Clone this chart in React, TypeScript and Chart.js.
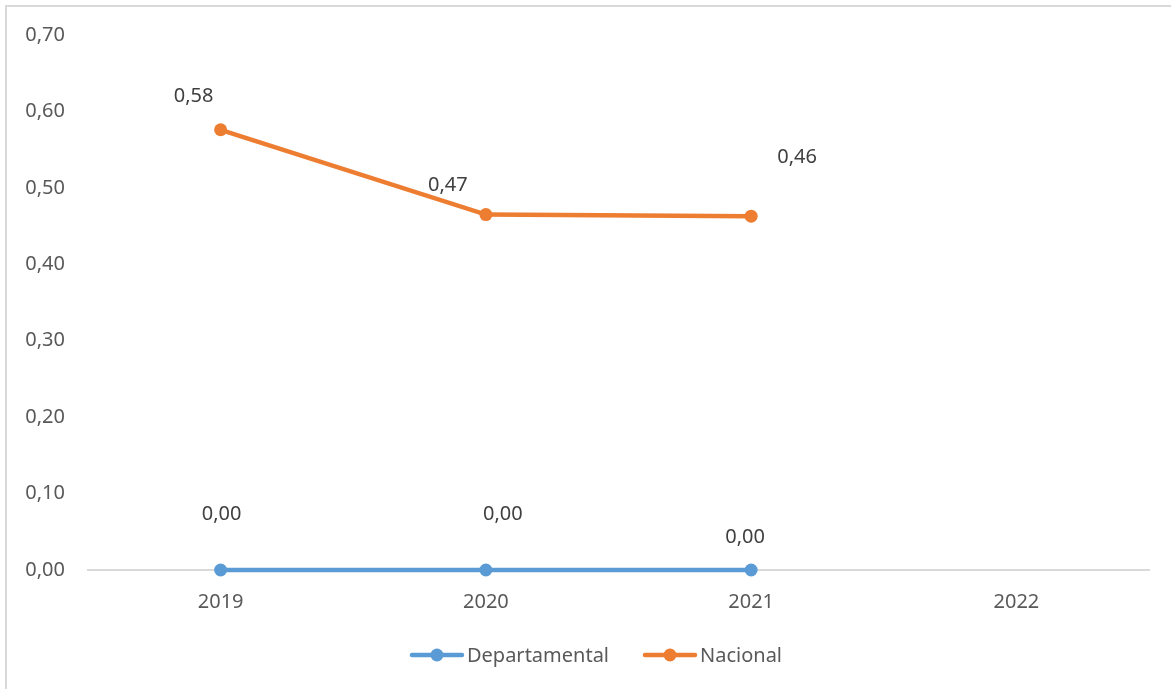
import React, { useEffect, useRef } from "react";
import { Chart, registerables } from "chart.js";

Chart.register(...registerables);

const categories = ["2019", "2020", "2021", "2022"];
const departamental = [0.0, 0.0, 0.0, null];
const nacional = [0.576, 0.465, 0.463, null];
const seriesNames = ["Departamental", "Nacional"];
const colors = ["#5b9bd5", "#ed7d31"];
const yTicks = [0, 0.1, 0.2, 0.3, 0.4, 0.5, 0.6, 0.7];

// label offsets (dx, dy) from each point, per series
const labelOffsets = [
  [[1, -56], [17, -56], [-6, -33]],
  [[-27, -33], [-38, -29], [46, -59]],
];

const FONT = "'Noto Sans', sans-serif";
const FONT_SIZE = 20;

const fmt = (v: number) => v.toFixed(2).replace(".", ",");

const dataLabelPlugin = {
  id: "dataLabels",
  afterDatasetsDraw(chart: any) {
    const ctx = chart.ctx;
    ctx.save();
    ctx.font = `${FONT_SIZE}px ${FONT}`;
    ctx.fillStyle = "#404040";
    ctx.textAlign = "center";
    ctx.textBaseline = "middle";
    chart.data.datasets.forEach((ds: any, di: number) => {
      const meta = chart.getDatasetMeta(di);
      meta.data.forEach((pt: any, i: number) => {
        const v = ds.data[i];
        if (v === null || v === undefined) return;
        const off = labelOffsets[di][i] || [0, -20];
        ctx.fillText(fmt(v), pt.x + off[0], pt.y + off[1]);
      });
    });
    ctx.restore();
  },
};

const legendPlugin = {
  id: "customLegend",
  afterDraw(chart: any) {
    const ctx = chart.ctx;
    ctx.save();
    ctx.font = `${FONT_SIZE}px ${FONT}`;
    const sampleW = 54;
    const gapText = 3;
    const gapItems = 34;
    const widths = seriesNames.map((n) => ctx.measureText(n).width);
    const total =
      widths.reduce((a, b) => a + sampleW + gapText + b, 0) + gapItems * (seriesNames.length - 1);
    let x = 596 - total / 2;
    const y = 655;
    seriesNames.forEach((name, i) => {
      ctx.strokeStyle = colors[i];
      ctx.lineWidth = 4.5;
      ctx.lineCap = "round";
      ctx.beginPath();
      ctx.moveTo(x + 2, y);
      ctx.lineTo(x + sampleW - 2, y);
      ctx.stroke();
      ctx.fillStyle = colors[i];
      ctx.beginPath();
      ctx.arc(x + sampleW / 2, y, 6.5, 0, Math.PI * 2);
      ctx.fill();
      ctx.fillStyle = "#595959";
      ctx.textAlign = "left";
      ctx.textBaseline = "middle";
      ctx.fillText(name, x + sampleW + gapText, y + 1);
      x += sampleW + gapText + widths[i] + gapItems;
    });
    ctx.restore();
  },
};

export default function App() {
  const canvasRef = useRef<HTMLCanvasElement>(null);

  useEffect(() => {
    if (!canvasRef.current) return;
    const chart = new Chart(canvasRef.current, {
      type: "line",
      data: {
        labels: categories,
        datasets: [departamental, nacional].map((d, i) => ({
          label: seriesNames[i],
          data: d,
          borderColor: colors[i],
          backgroundColor: colors[i],
          borderWidth: 4.5,
          pointRadius: 6.5,
          pointHoverRadius: 6.5,
          pointBackgroundColor: colors[i],
          pointBorderWidth: 0,
          tension: 0,
          spanGaps: false,
          clip: false,
        })),
      },
      options: {
        animation: false,
        responsive: false,
        maintainAspectRatio: false,
        layout: { padding: { left: 0, right: 22, top: 34, bottom: 0 } },
        plugins: {
          legend: { display: false },
          tooltip: { enabled: false },
        },
        scales: {
          x: {
            offset: true,
            grid: { display: false, drawTicks: false },
            border: { display: true, color: "#d9d9d9", width: 2 },
            ticks: {
              color: "#595959",
              font: { family: FONT, size: FONT_SIZE },
              padding: 20,
            },
            afterFit: (scale: any) => {
              scale.height = 119;
            },
          },
          y: {
            min: 0,
            max: 0.7,
            afterBuildTicks: (scale: any) => {
              scale.ticks = yTicks.map((v) => ({ value: v }));
            },
            grid: { display: false, drawTicks: false },
            border: { display: false },
            ticks: {
              color: "#595959",
              font: { family: FONT, size: FONT_SIZE },
              padding: 23,
              callback: (v: any) => fmt(Number(v)),
            },
            afterFit: (scale: any) => {
              scale.width = 88;
            },
          },
        },
      },
      plugins: [dataLabelPlugin, legendPlugin],
    });
    return () => chart.destroy();
  }, []);

  return (
    <div style={{ position: "absolute", left: 0, top: 0, width: 1171, height: 689, background: "#fff" }}>
      <div
        style={{
          position: "absolute",
          left: 5,
          top: 5,
          width: 1180,
          height: 700,
          borderTop: "2px solid #d9d9d9",
          borderLeft: "2px solid #d9d9d9",
          boxSizing: "border-box",
        }}
      />
      <canvas ref={canvasRef} width={1171} height={689} style={{ position: "absolute", left: 0, top: 0 }} />
    </div>
  );
}
